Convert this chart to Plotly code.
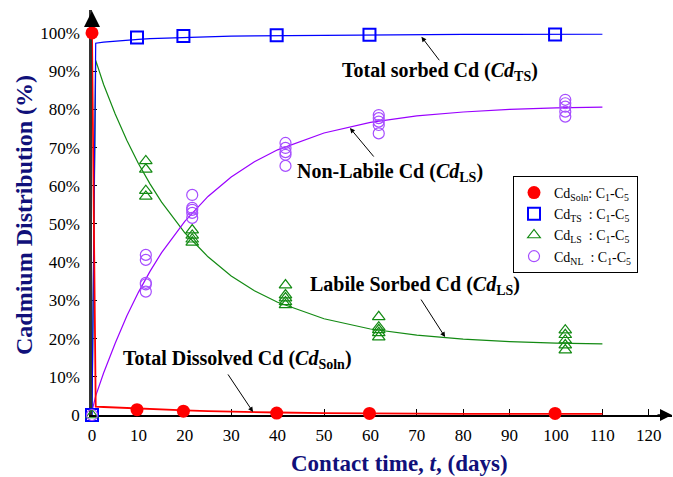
import plotly.graph_objects as go

t_sol = [0, 9.7, 19.7, 39.8, 59.8, 99.8]
cd_soln = [100, 1.4, 1.0, 0.5, 0.4, 0.4]
cd_ts = [0, 98.8, 99.2, 99.4, 99.5, 99.6]

t_ls_groups = [0, 11.6, 21.6, 41.7, 61.8, 102.0]
cd_ls_groups = [
    [0],
    [66.5, 64.3, 58.7, 57.2],
    [48.4, 47.0, 46.0, 45.2],
    [34.0, 31.4, 30.6, 29.6, 28.8],
    [25.7, 23.0, 22.3, 21.5, 20.4],
    [22.2, 21.0, 19.6, 18.3, 17.0],
]
cd_nl_groups = [
    [0],
    [41.9, 40.6, 34.6, 34.2, 32.3],
    [57.6, 54.2, 53.7, 52.9, 51.6],
    [71.2, 69.9, 68.8, 68.1, 65.2],
    [78.5, 77.7, 76.8, 75.9, 73.7],
    [82.5, 81.6, 80.7, 79.4, 78.1],
]

# ---- fitted curves ----
fit_t = [0, 0.8, 2.5, 5, 7.5, 10, 12.5, 15, 20, 25, 30, 35, 40, 50, 60, 70, 80, 90, 100, 110]
fit_soln = [100, 2.2, 2.1, 1.95, 1.8, 1.65, 1.5, 1.4, 1.2, 1.0, 0.85, 0.75, 0.65, 0.5, 0.4, 0.35, 0.3, 0.3, 0.28, 0.27]
fit_ts = [0, 97.3, 97.6, 97.9, 98.1, 98.3, 98.5, 98.6, 98.85, 99.0, 99.15, 99.25, 99.3, 99.45, 99.5, 99.55, 99.6, 99.6, 99.65, 99.65]
fit_ls = [0, 92.8, 86.5, 78.8, 71.9, 65.8, 60.5, 55.7, 47.7, 41.4, 36.4, 32.5, 29.5, 25.2, 22.5, 20.9, 19.85, 19.2, 18.8, 18.6]
fit_nl = [1.0, 5.0, 11.0, 18.8, 25.9, 32.1, 37.6, 42.5, 50.7, 57.2, 62.3, 66.3, 69.4, 73.8, 76.6, 78.3, 79.3, 80.0, 80.4, 80.6]

x_ticks = list(range(0, 121, 10))
y_ticks = list(range(0, 101, 10))
y_ticktext = ["0"] + [f"{v}%" for v in y_ticks[1:]]

RED = "#ff0000"
BLUE = "#0000ff"
GREEN = "#138a13"
PURPLE_L = "#9a00ff"
PURPLE_M = "#a64dff"
NAVY = "#10107a"
SERIF = "Liberation Serif, Times New Roman, serif"

def flatten(ts, groups):
    xs, ys = [], []
    for t, g in zip(ts, groups):
        for v in g:
            xs.append(t)
            ys.append(v)
    return xs, ys

fig = go.Figure()

# fit lines
fig.add_trace(go.Scatter(x=fit_t, y=fit_ls, mode="lines", line=dict(color=GREEN, width=1.2),
                         showlegend=False, cliponaxis=False, hoverinfo="skip"))
fig.add_trace(go.Scatter(x=fit_t, y=fit_nl, mode="lines", line=dict(color=PURPLE_L, width=1.2),
                         showlegend=False, cliponaxis=False, hoverinfo="skip"))
fig.add_trace(go.Scatter(x=fit_t, y=fit_ts, mode="lines", line=dict(color=BLUE, width=1.2),
                         showlegend=False, cliponaxis=False, hoverinfo="skip"))
fig.add_trace(go.Scatter(x=fit_t, y=fit_soln, mode="lines", line=dict(color=RED, width=1.8),
                         showlegend=False, cliponaxis=False, hoverinfo="skip"))

# markers
fig.add_trace(go.Scatter(x=t_sol, y=cd_soln, mode="markers", cliponaxis=False,
                         marker=dict(symbol="circle", size=13, color=RED),
                         name="Cd<sub>Soln</sub>: C<sub>1</sub>-C<sub>5</sub>"))
fig.add_trace(go.Scatter(x=t_sol, y=cd_ts, mode="markers", cliponaxis=False,
                         marker=dict(symbol="square-open", size=12, color=BLUE, line=dict(width=2)),
                         name="Cd<sub>TS</sub>\u00a0\u00a0: C<sub>1</sub>-C<sub>5</sub>"))
xs, ys = flatten(t_ls_groups, cd_ls_groups)
fig.add_trace(go.Scatter(x=xs, y=ys, mode="markers", cliponaxis=False,
                         marker=dict(symbol="triangle-up-open", size=11, color=GREEN, line=dict(width=1.2)),
                         name="Cd<sub>LS</sub>\u00a0\u00a0: C<sub>1</sub>-C<sub>5</sub>"))
xs, ys = flatten(t_ls_groups, cd_nl_groups)
fig.add_trace(go.Scatter(x=xs, y=ys, mode="markers", cliponaxis=False,
                         marker=dict(symbol="circle-open", size=11, color=PURPLE_M, line=dict(width=1.2)),
                         name="Cd<sub>NL</sub>\u00a0\u00a0: C<sub>1</sub>-C<sub>5</sub>"))

ann_font = dict(family=SERIF, size=20, color="black")
annotations = [
    dict(x=71, y=99.0, ax=19, ay=25, text="", showarrow=True, arrowhead=2, arrowsize=1, arrowwidth=1, arrowcolor="black"),
    dict(x=75, y=89.8, text="<b>Total sorbed Cd (<i>Cd</i><sub>TS</sub>)</b>", showarrow=False, font=ann_font),
    dict(x=55.6, y=75.1, ax=25, ay=30, text="", showarrow=True, arrowhead=2, arrowsize=1, arrowwidth=1, arrowcolor="black"),
    dict(x=64.2, y=63.6, text="<b>Non-Labile Cd (<i>Cd</i><sub>LS</sub>)</b>", showarrow=False, font=ann_font),
    dict(x=76.1, y=20.4, ax=-25, ay=-39, text="", showarrow=True, arrowhead=2, arrowsize=1, arrowwidth=1, arrowcolor="black"),
    dict(x=69.6, y=34.0, text="<b>Labile Sorbed Cd (<i>Cd</i><sub>LS</sub>)</b>", showarrow=False, font=ann_font),
    dict(x=34.7, y=0.8, ax=-26, ay=-39, text="", showarrow=True, arrowhead=2, arrowsize=1, arrowwidth=1, arrowcolor="black"),
    dict(x=31.3, y=14.4, text="<b>Total Dissolved Cd (<i>Cd</i><sub>Soln</sub>)</b>", showarrow=False, font=ann_font),
    # axis titles
    dict(xref="paper", yref="paper", x=(399 - 92) / 580, y=(415 - 463) / 405,
         xanchor="center", yanchor="middle",
         text="<b>Contact time, <i>t</i>, (days)</b>", showarrow=False,
         font=dict(family=SERIF, size=23, color=NAVY)),
    dict(xref="paper", yref="paper", x=(24 - 92) / 580, y=(415 - 215) / 405, textangle=-90,
         xanchor="center", yanchor="middle",
         text="<b>Cadmium Distribution (%)</b>", showarrow=False,
         font=dict(family=SERIF, size=24, color=NAVY)),
    # axis arrowheads
    dict(xref="paper", yref="paper", x=0, y=(415 - 11) / 405, ax=0, ay=14, text="", showarrow=True,
         arrowhead=2, arrowsize=1.6, arrowwidth=2, arrowcolor="black"),
    dict(xref="paper", yref="paper", x=1, y=0, ax=-16, ay=0, text="", showarrow=True,
         arrowhead=2, arrowsize=1.6, arrowwidth=1.5, arrowcolor="black"),
]

tick_font = dict(family=SERIF, size=17, color="black")

fig.update_layout(
    width=673, height=477,
    margin=dict(l=92, r=1, t=10, b=62),
    plot_bgcolor="white", paper_bgcolor="white",
    font=dict(family=SERIF, size=17, color="black"),
    annotations=annotations,
    legend=dict(x=(513 - 92) / 580, y=(415 - 176) / 405, xanchor="left", yanchor="top",
                bordercolor="black", borderwidth=1, bgcolor="white",
                font=dict(family=SERIF, size=14, color="black"),
                tracegroupgap=0, itemwidth=30),
)
fig.update_xaxes(range=[0, 125], tickvals=x_ticks, ticks="inside", ticklen=6, tickcolor="black",
                 showline=True, linecolor="black", linewidth=1.5, showgrid=False, zeroline=False,
                 layer="below traces", ticklabelstandoff=4, tickfont=tick_font)
fig.update_yaxes(range=[0, 106], tickvals=y_ticks, ticktext=y_ticktext, ticks="inside", ticklen=5,
                 tickcolor="black", showline=True, linecolor="#333333", linewidth=2.5,
                 showgrid=False, zeroline=False, layer="below traces", ticklabelstandoff=6,
                 tickfont=tick_font)

fig.write_html("out.html")
